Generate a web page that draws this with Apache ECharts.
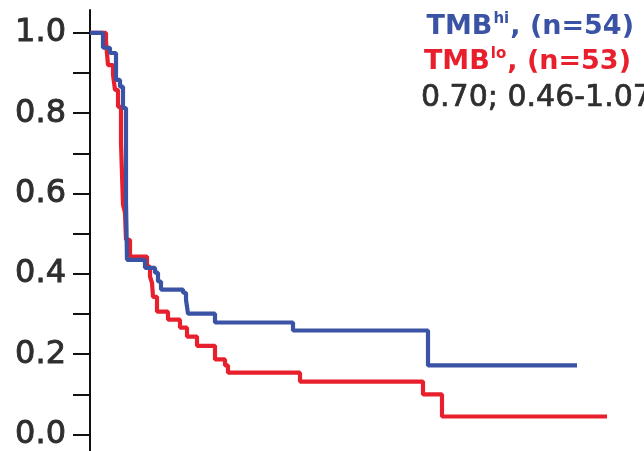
<!DOCTYPE html>
<html>
<head>
<meta charset="utf-8">
<script src="https://cdn.jsdelivr.net/npm/echarts@6/dist/echarts.min.js"></script>
<style>
html,body{margin:0;padding:0;background:#fff;}
#chart{width:644px;height:451px;}
</style>
</head>
<body>
<div id="chart"></div>
<script>
// Kaplan-Meier step data: [time, survival probability after the event]
const timesHi = [0, 1.3, 2.0, 2.6, 3.0, 3.3, 3.6, 3.7, 5.5, 6.5, 6.8, 7.1, 9.3, 9.6, 9.8, 12.5, 20.3, 33.8, 48.7];
const survHi  = [1.0, 0.963, 0.950, 0.883, 0.866, 0.813, 0.580, 0.435, 0.415, 0.403, 0.381, 0.361, 0.353, 0.336, 0.301, 0.279, 0.259, 0.172, 0.172];

const timesLo = [0, 1.6, 1.8, 2.3, 2.5, 2.8, 3.1, 3.3, 3.5, 3.6, 4.0, 5.7, 6.0, 6.2, 6.3, 6.7, 7.8, 9.0, 9.7, 10.7, 12.5, 13.5, 13.8, 21.0, 33.3, 35.2, 51.7];
const survLo  = [1.0, 0.978, 0.920, 0.896, 0.858, 0.816, 0.726, 0.572, 0.552, 0.485, 0.443, 0.418, 0.393, 0.378, 0.343, 0.306, 0.286, 0.266, 0.244, 0.221, 0.187, 0.172, 0.154, 0.132, 0.100, 0.045, 0.045];

const yTickValues  = [0, 0.1, 0.2, 0.3, 0.4, 0.5, 0.6, 0.7, 0.8, 0.9, 1.0];
const yLabelValues = [0, 0.2, 0.4, 0.6, 0.8, 1.0];

const legendHi = {name: 'TMB', sup: 'hi', rest: ', (n=54)'};
const legendLo = {name: 'TMB', sup: 'lo', rest: ', (n=53)'};
const hrText = '0.70; 0.46-1.07';

const BLUE = '#3a53a4';
const RED = '#e8202d';
const GRAY = '#2e2e2e';

const chart = echarts.init(document.getElementById('chart'), null, {renderer: 'canvas'});

function richLegend(item, color) {
  return {
    text: '{b|' + item.name + '}{s|' + item.sup + '}{b|' + item.rest + '}',
    rich: {
      b: {fontFamily: 'DejaVu Sans', fontWeight: 'bold', fontSize: 27, fill: color, lineHeight: 30},
      s: {fontFamily: 'DejaVu Sans', fontWeight: 'bold', fontSize: 15, fill: color, verticalAlign: 'top', lineHeight: 30, padding: [0, 1, 0, 1]}
    },
    fill: color,
    textAlign: 'right',
    textVerticalAlign: 'top'
  };
}

chart.setOption({
  animation: false,
  backgroundColor: '#ffffff',
  grid: {left: 90, right: 4, top: 10, bottom: 0, containLabel: false},
  xAxis: {
    type: 'value', min: 0, max: 55, show: false
  },
  yAxis: {
    type: 'value', min: -0.04, max: 1.057,
    axisLine: {show: true, lineStyle: {color: '#111', width: 2}},
    axisTick: {show: true, length: 17, lineStyle: {color: '#111', width: 2}, customValues: yTickValues},
    axisLabel: {
      show: true, customValues: yLabelValues, margin: 24,
      fontFamily: 'DejaVu Sans', fontSize: 32, color: GRAY,
      textBorderColor: GRAY, textBorderWidth: 0.9,
      formatter: v => v.toFixed(1)
    },
    splitLine: {show: false}
  },
  series: [
    {
      type: 'line', step: 'end', showSymbol: false, z: 2,
      data: timesLo.map((t, i) => [t, survLo[i]]),
      lineStyle: {color: RED, width: 4.2}
    },
    {
      type: 'line', step: 'end', showSymbol: false, z: 3,
      data: timesHi.map((t, i) => [t, survHi[i]]),
      lineStyle: {color: BLUE, width: 4.2}
    }
  ],
  graphic: [
    {type: 'text', x: 634, y: 12, style: richLegend(legendHi, BLUE)},
    {type: 'text', x: 631, y: 47, style: richLegend(legendLo, RED)},
    {type: 'text', x: 421, y: 83, style: {text: hrText, fontFamily: 'DejaVu Sans', fontSize: 30, fill: GRAY, stroke: GRAY, lineWidth: 0.7, textAlign: 'left', textVerticalAlign: 'top'}}
  ]
});
</script>
</body>
</html>
